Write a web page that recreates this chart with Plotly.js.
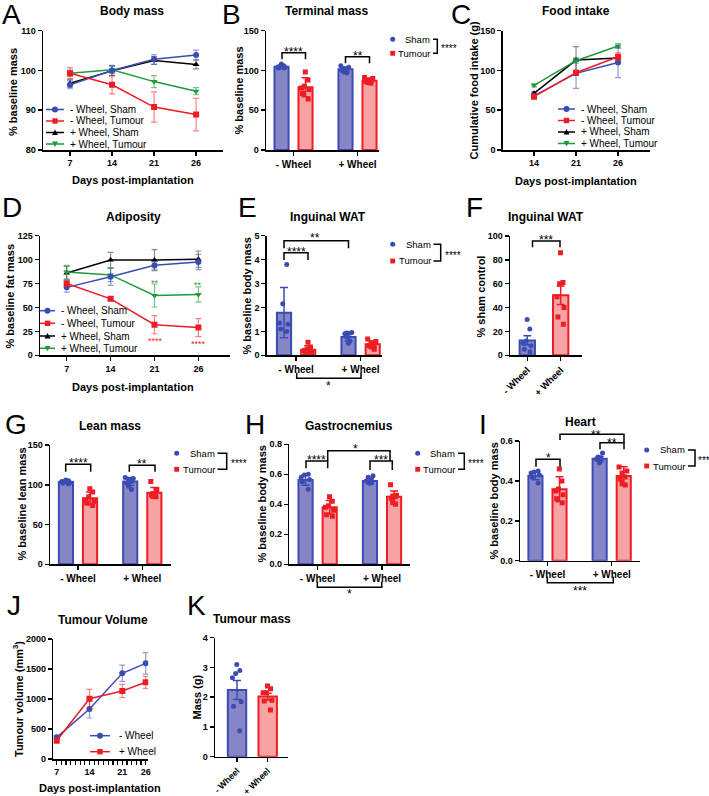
<!DOCTYPE html>
<html><head><meta charset="utf-8">
<script src="https://cdn.plot.ly/plotly-3.0.1.min.js"></script>
<style>html,body{margin:0;padding:0;background:#fff}</style>
</head><body><div id="chart" style="width:709px;height:796px"></div>
<script>
// ================= DATA =================
const lineDays = ['7', '14', '21', '26'];
const foodDays = ['14', '21', '26'];
const volDays = [7, 14, 21, 26];
const barGroups = ['- Wheel', '+ Wheel'];
const seriesNames = ['- Wheel, Sham', '- Wheel, Tumour', '+ Wheel, Sham', '+ Wheel, Tumour'];
const volNames = ['- Wheel', '+ Wheel'];

// A  Body mass (% baseline mass)
const bodyShamNoWheel = [96.4, 100.0, 102.8, 103.9];
const bodyShamNoWheelErr = [1.0, 1.3, 1.2, 1.2];
const bodyTumNoWheel = [99.3, 96.4, 90.8, 88.9];
const bodyTumNoWheelErr = [1.4, 2.3, 3.8, 4.1];
const bodyShamWheel = [96.8, 99.9, 102.5, 101.5];
const bodyShamWheelErr = [1.0, 1.2, 1.0, 1.1];
const bodyTumWheel = [99.3, 100.2, 97.2, 94.8];
const bodyTumWheelErr = [0.8, 1.0, 1.5, 0.9];

// B  Terminal mass
const termShamMean = [104.7, 101.4];
const termShamErr = [2.2, 3.0];
const termTumMean = [78.8, 87.1];
const termTumErr = [12.0, 3.2];
const termShamDots = [[104, 105, 103, 108, 106, 103, 104], [106, 104, 102, 101, 100, 98, 97]];
const termTumDots = [[98, 88, 80, 78, 76, 71, 64], [91, 90, 88, 86, 85, 84, 86]];

// C  Food intake (g)
const foodShamNoWheel = [68, 96.4, 110];
const foodShamNoWheelErr = [2, 19, 19];
const foodTumNoWheel = [67, 97.2, 117.3];
const foodTumNoWheelErr = [2, 3, 5];
const foodShamWheel = [71.2, 113.1, 115.6];
const foodShamWheelErr = [2, 17, 4];
const foodTumWheel = [81.3, 112.3, 130.7];
const foodTumWheelErr = [2, 3, 3];

// D  Adiposity (% baseline fat mass)
const fatShamNoWheel = [71, 82, 94, 97.5];
const fatShamNoWheelErr = [5, 9, 4, 8];
const fatTumNoWheel = [75, 59, 32, 29];
const fatTumNoWheelErr = [3, 2, 9.5, 9.4];
const fatShamWheel = [86, 99.5, 99.5, 100.5];
const fatShamWheelErr = [7, 8, 11, 8.5];
const fatTumWheel = [87, 84, 62.5, 63.5];
const fatTumWheelErr = [7, 7, 12, 8];

// E  Inguinal WAT (% baseline body mass)
const watShamMean = [1.78, 0.77];
const watShamErr = [1.05, 0.17];
const watTumMean = [0.23, 0.46];
const watTumErr = [0.17, 0.14];
const watShamDots = [[3.8, 2.15, 1.35, 1.3, 1.1, 1.0], [0.95, 0.93, 0.92, 0.9, 0.75, 0.6, 0.5]];
const watTumDots = [[0.55, 0.35, 0.25, 0.2, 0.15, 0.1, 0.05], [0.68, 0.58, 0.5, 0.45, 0.4, 0.35, 0.25]];

// F  Inguinal WAT (% sham control)
const watCtrlMean = [12.5, 50.3];
const watCtrlErr = [3.8, 7.8];
const watCtrlDots = [[30, 22, 12, 10, 8, 5, 3], [86, 61, 60, 49, 40, 32, 26]];

// G  Lean mass
const leanShamMean = [103.5, 104.0];
const leanShamErr = [2.0, 5.0];
const leanTumMean = [83.0, 90.0];
const leanTumErr = [8.0, 6.5];
const leanShamDots = [[106, 105, 104, 103, 102, 101, 104], [109, 108, 106, 104, 102, 98, 94]];
const leanTumDots = [[95, 91, 85, 81, 79, 77, 74], [104, 94, 89, 88, 87, 86, 85]];

// H  Gastrocnemius
const gastShamMean = [0.562, 0.556];
const gastShamErr = [0.035, 0.02];
const gastTumMean = [0.38, 0.451];
const gastTumErr = [0.045, 0.038];
const gastShamDots = [[0.6, 0.595, 0.58, 0.565, 0.55, 0.5], [0.59, 0.58, 0.565, 0.555, 0.55, 0.545, 0.54]];
const gastTumDots = [[0.45, 0.42, 0.39, 0.38, 0.36, 0.33, 0.32], [0.53, 0.46, 0.455, 0.45, 0.44, 0.41, 0.40]];

// I  Heart
const heartShamMean = [0.426, 0.511];
const heartShamErr = [0.02, 0.012];
const heartTumMean = [0.358, 0.4245];
const heartTumErr = [0.063, 0.047];
const heartShamDots = [[0.45, 0.445, 0.44, 0.43, 0.42, 0.39], [0.54, 0.52, 0.515, 0.51, 0.505, 0.5, 0.49]];
const heartTumDots = [[0.46, 0.4, 0.36, 0.35, 0.33, 0.31, 0.29], [0.47, 0.45, 0.44, 0.42, 0.41, 0.39, 0.38]];

// J  Tumour volume (mm3)
const volNoWheel = [361, 833, 1428, 1594];
const volNoWheelErr = [30, 150, 135, 180];
const volWheel = [305, 1005, 1133, 1278];
const volWheelErr = [30, 155, 110, 100];

// K  Tumour mass (g)
const tmassMean = [2.24, 2.02];
const tmassErr = [0.32, 0.11];
const tmassDots = [[3.1, 2.9, 2.8, 2.65, 1.85, 1.7, 0.87], [2.38, 2.28, 2.15, 2.15, 1.9, 1.87, 1.57]];

// ================= STYLE / LAYOUT =================
const W = 709, H = 796;
const FONT = 'Liberation Sans, Arial, Helvetica, sans-serif';
const BLUE = '#3a4cb4', RED = '#ee1c24', GREEN = '#1e9a3a', BLACK = '#000000';
const BLUE_E = 'rgba(58,76,180,0.55)', RED_E = 'rgba(238,28,36,0.55)', GREEN_E = 'rgba(30,154,58,0.6)', BLACK_E = 'rgba(0,0,0,0.45)';
const SHAM_FILL = '#8686c6', TUM_FILL = '#f5a3a3';
const px = x => x / W;
const py = y => 1 - y / H;

const traces = [], shapes = [], annotations = [];
const layout = {
  width: W, height: H, margin: {l: 0, r: 0, t: 0, b: 0},
  paper_bgcolor: '#fff', plot_bgcolor: 'rgba(0,0,0,0)',
  font: {family: FONT, color: '#000', size: 10},
  showlegend: false, hovermode: false,
  shapes: shapes, annotations: annotations
};

// plot boxes in pixels [x0, x1, yTop, yBottom]
const geom = {
  1: {box: [43, 223, 30.7, 150], xr: [-0.643, 3.64], yr: [80, 110], dt: 10, cats: lineDays},
  2: {box: [266, 379, 30.7, 150], xr: [-0.43, 1.336], yr: [0, 150], dt: 50, cats: barGroups},
  3: {box: [502.7, 650, 30.7, 150], xr: [-0.745, 2.76], yr: [0, 150], dt: 50, cats: foodDays},
  4: {box: [40, 230, 235.7, 355.3], xr: [-0.608, 3.72], yr: [0, 125], dt: 25, cats: lineDays},
  5: {box: [266.7, 381.7, 235.7, 355.3], xr: [-0.456, 1.327], yr: [0, 5], dt: 1, cats: barGroups},
  6: {box: [510, 581.7, 236, 355.3], xr: [-0.518, 1.63], yr: [0, 100], dt: 20, cats: barGroups, rot: 9.5},
  7: {box: [50, 170.7, 445, 564.3], xr: [-0.435, 1.442], yr: [0, 150], dt: 50, cats: barGroups},
  8: {box: [289.3, 410, 444.3, 564.3], xr: [-0.44, 1.435], yr: [0, 0.8], dt: 0.2, fmt: '.1f', cats: barGroups},
  9: {box: [520, 640, 441, 560.7], xr: [-0.428, 1.441], yr: [0, 0.6], dt: 0.2, fmt: '.1f', cats: barGroups},
  10: {box: [53.3, 148.3, 639, 759], xr: [6.274, 26.555], yr: [0, 2000], dt: 500, lin: true},
  11: {box: [215, 288.3, 637.7, 756.7], xr: [-0.717, 1.671], yr: [0, 4], dt: 1, cats: barGroups, rot: 8.8}
};

const axLine = {showline: true, linecolor: '#000', linewidth: 1.5, ticks: 'outside', ticklen: 4, tickwidth: 1.5,
  tickcolor: '#000', showgrid: false, zeroline: false, fixedrange: true};

Object.keys(geom).forEach(k => {
  const g = geom[k], s = (k === '1') ? '' : k;
  const xa = Object.assign({}, axLine, {
    domain: [px(g.box[0]), px(g.box[1])], range: g.xr, anchor: 'y' + s,
    tickfont: {family: FONT, size: g.rot ? g.rot : (g.cats === barGroups ? 10 : 9), weight: 'bold', color: '#000'}
  });
  if (g.lin) {
    xa.type = 'linear'; xa.tickmode = 'array'; xa.tickvals = volDays; xa.ticktext = volDays.map(String);
    xa.minor = {ticks: 'outside', dtick: 1, tick0: 7, ticklen: 4, tickwidth: 1.2, tickcolor: '#000'};
  } else {
    xa.type = 'category'; xa.categoryorder = 'array'; xa.categoryarray = g.cats;
  }
  if (g.rot) xa.tickangle = -45;
  layout['xaxis' + s] = xa;
  const ya = Object.assign({}, axLine, {
    domain: [py(g.box[3]), py(g.box[2])], range: g.yr, anchor: 'x' + s, dtick: g.dt, tick0: 0,
    tickfont: {family: FONT, size: 9, weight: 'bold', color: '#000'}
  });
  if (g.fmt) ya.tickformat = g.fmt;
  layout['yaxis' + s] = ya;
});
const axId = n => (n === 1 ? {x: 'x', y: 'y'} : {x: 'x' + n, y: 'y' + n});

// ---------- helpers ----------
function text(x, y, t, o) {
  o = o || {};
  annotations.push(Object.assign({xref: 'paper', yref: 'paper', x: px(x), y: py(y), text: t, showarrow: false,
    xanchor: 'center', yanchor: 'middle', font: {family: FONT, size: o.size || 10, color: o.color || '#000'}},
    o.extra || {}));
}
function bold(x, y, t, size, extra) { text(x, y, '<b>' + t + '</b>', {size: size, extra: extra}); }
function stars(x, y, t, size, color, anchor) {
  size = size || 12;
  text(x, y + 0.24 * size, t, {size: size, color: color || '#000', extra: {xanchor: anchor || 'center'}});
}
function path(d, color, w) {
  shapes.push({type: 'path', xref: 'paper', yref: 'paper', path: d, line: {color: color || '#000', width: w || 1.5},
    fillcolor: 'rgba(0,0,0,0)'});
}
function bracket(x0, x1, yTop, yL0, yL1, t, sx, sy) {
  path(`M${px(x0)},${py(yL0)} L${px(x0)},${py(yTop)} L${px(x1)},${py(yTop)} L${px(x1)},${py(yL1)}`);
  stars(sx, sy, t, 12);
}
function marker(cx, cy, sym, color, r) {
  const base = {xref: 'paper', yref: 'paper', fillcolor: color, line: {width: 0}};
  if (sym === 'circle') shapes.push(Object.assign({type: 'circle', x0: px(cx - r), x1: px(cx + r), y0: py(cy + r), y1: py(cy - r)}, base));
  else if (sym === 'square') shapes.push(Object.assign({type: 'rect', x0: px(cx - r * 0.9), x1: px(cx + r * 0.9), y0: py(cy + r * 0.9), y1: py(cy - r * 0.9)}, base));
  else if (sym === 'triangle-up') shapes.push(Object.assign({type: 'path',
    path: `M${px(cx - r)},${py(cy + r * 0.8)} L${px(cx + r)},${py(cy + r * 0.8)} L${px(cx)},${py(cy - r)} Z`}, base));
  else shapes.push(Object.assign({type: 'path',
    path: `M${px(cx - r)},${py(cy - r * 0.8)} L${px(cx + r)},${py(cy - r * 0.8)} L${px(cx)},${py(cy + r)} Z`}, base));
}
function lineLegend(x0, x1, textX, rows, items) {
  items.forEach((it, i) => {
    shapes.push({type: 'line', xref: 'paper', yref: 'paper', x0: px(x0), x1: px(x1), y0: py(rows[i]), y1: py(rows[i]),
      line: {color: it.color, width: 1.5}});
    marker((x0 + x1) / 2, rows[i], it.symbol, it.color, 3);
    text(textX, rows[i], it.name, {size: 10, extra: {xanchor: 'left'}});
  });
}
function barLegend(dotX, rows, textRight, brX, st, stX) {
  marker(dotX, rows[0], 'circle', BLUE, 2.5);
  marker(dotX, rows[1], 'square', RED, 2.7);
  text(textRight, rows[0], 'Sham', {size: 9.5, extra: {xanchor: 'right'}});
  text(textRight, rows[1], 'Tumour', {size: 9.5, extra: {xanchor: 'right'}});
  path(`M${px(textRight + 1)},${py(rows[0])} L${px(brX)},${py(rows[0])} L${px(brX)},${py(rows[1])} L${px(textRight + 1)},${py(rows[1])}`);
  stars(stX || brX + 2, (rows[0] + rows[1]) / 2, st, 10, '#000', 'left');
}
function dotsX(groups, dots) { const xs = []; dots.forEach((a, i) => a.forEach(() => xs.push(groups[i]))); return xs; }

function lineSeries(n, xs, y, err, color, ecolor, symbol) {
  const a = axId(n);
  traces.push({type: 'scatter', mode: 'lines+markers', x: xs, y: y, xaxis: a.x, yaxis: a.y,
    line: {color: color, width: 1.5}, marker: {color: color, symbol: symbol, size: 6},
    error_y: {type: 'data', array: err, color: ecolor, thickness: 1.2, width: 3}, hoverinfo: 'skip'});
}
function barPanel(n, sM, sE, tM, tE, sD, tD) {
  const a = axId(n), BW = 0.22, OFF = 0.1875, DW = 0.2;
  traces.push({type: 'bar', x: barGroups, y: sM, xaxis: a.x, yaxis: a.y, width: BW, offset: -OFF - BW / 2,
    marker: {color: SHAM_FILL, line: {color: BLUE, width: 2}},
    error_y: {type: 'data', array: sE, color: BLUE, thickness: 1.5, width: 4}, hoverinfo: 'skip'});
  traces.push({type: 'bar', x: barGroups, y: tM, xaxis: a.x, yaxis: a.y, width: BW, offset: OFF - BW / 2,
    marker: {color: TUM_FILL, line: {color: RED, width: 2}},
    error_y: {type: 'data', array: tE, color: RED, thickness: 1.5, width: 4}, hoverinfo: 'skip'});
  [[sD, BLUE, 'circle', -1], [tD, RED, 'square', 1]].forEach(([d, c, sym, sg]) => {
    traces.push({type: 'box', x: dotsX(barGroups, d), y: d.flat(), xaxis: a.x, yaxis: a.y, boxpoints: 'all',
      jitter: 0.8, pointpos: sg * OFF / (DW / 2), width: DW, fillcolor: 'rgba(0,0,0,0)',
      line: {color: 'rgba(0,0,0,0)', width: 0}, whiskerwidth: 0,
      marker: {color: c, size: 5, symbol: sym}, hoverinfo: 'skip'});
  });
}
function pairPanel(n, M, E, D, BW) {
  const a = axId(n);
  [[0, SHAM_FILL, BLUE, 'circle'], [1, TUM_FILL, RED, 'square']].forEach(([i, f, c, sym]) => {
    traces.push({type: 'bar', x: [barGroups[i]], y: [M[i]], xaxis: a.x, yaxis: a.y, width: BW, offset: -BW / 2,
      marker: {color: f, line: {color: c, width: 2}},
      error_y: {type: 'data', array: [E[i]], color: c, thickness: 1.5, width: 4}, hoverinfo: 'skip'});
    traces.push({type: 'box', x: dotsX([barGroups[i]], [D[i]]), y: D[i], xaxis: a.x, yaxis: a.y, boxpoints: 'all',
      jitter: 0.9, pointpos: 0, width: BW * 0.75, fillcolor: 'rgba(0,0,0,0)',
      line: {color: 'rgba(0,0,0,0)', width: 0}, whiskerwidth: 0,
      marker: {color: c, size: 5, symbol: sym}, hoverinfo: 'skip'});
  });
}

const legendItems = [
  {name: seriesNames[0], color: BLUE, symbol: 'circle'},
  {name: seriesNames[1], color: RED, symbol: 'square'},
  {name: seriesNames[2], color: BLACK, symbol: 'triangle-up'},
  {name: seriesNames[3], color: GREEN, symbol: 'triangle-down'}
];

// ---------- A ----------
lineSeries(1, lineDays, bodyShamWheel, bodyShamWheelErr, BLACK, BLACK_E, 'triangle-up');
lineSeries(1, lineDays, bodyTumWheel, bodyTumWheelErr, GREEN, GREEN_E, 'triangle-down');
lineSeries(1, lineDays, bodyShamNoWheel, bodyShamNoWheelErr, BLUE, BLUE_E, 'circle');
lineSeries(1, lineDays, bodyTumNoWheel, bodyTumNoWheelErr, RED, RED_E, 'square');
lineLegend(46, 64, 68, [109.5, 121, 132.5, 144], legendItems);
// ---------- B ----------
barPanel(2, termShamMean, termShamErr, termTumMean, termTumErr, termShamDots, termTumDots);
bracket(282, 305.5, 52.7, 59.3, 59.3, '****', 293.7, 49.5);
bracket(345.5, 369.5, 56.7, 63.3, 63.3, '**', 357.5, 53);
barLegend(392.7, [39.3, 53.3], 432, 437.3, '****');
// ---------- C ----------
lineSeries(3, foodDays, foodShamWheel, foodShamWheelErr, BLACK, BLACK_E, 'triangle-up');
lineSeries(3, foodDays, foodTumWheel, foodTumWheelErr, GREEN, GREEN_E, 'triangle-down');
lineSeries(3, foodDays, foodShamNoWheel, foodShamNoWheelErr, BLUE, BLUE_E, 'circle');
lineSeries(3, foodDays, foodTumNoWheel, foodTumNoWheelErr, RED, RED_E, 'square');
lineLegend(558, 575, 578.5, [109, 120.5, 132, 143.5], legendItems);
// ---------- D ----------
lineSeries(4, lineDays, fatShamWheel, fatShamWheelErr, BLACK, BLACK_E, 'triangle-up');
lineSeries(4, lineDays, fatTumWheel, fatTumWheelErr, GREEN, GREEN_E, 'triangle-down');
lineSeries(4, lineDays, fatShamNoWheel, fatShamNoWheelErr, BLUE, BLUE_E, 'circle');
lineSeries(4, lineDays, fatTumNoWheel, fatTumNoWheelErr, RED, RED_E, 'square');
lineLegend(40, 55, 58.5, [310.7, 323.3, 336, 348.3], legendItems);
stars(155, 281, '**', 9, GREEN); stars(198.3, 282.7, '**', 9, GREEN);
stars(155, 339.3, '****', 9, RED); stars(198.3, 341.7, '****', 9, RED);
// ---------- E ----------
barPanel(5, watShamMean, watShamErr, watTumMean, watTumErr, watShamDots, watTumDots);
bracket(284, 308, 252.7, 260, 260, '****', 296, 249.3);
bracket(284, 348.5, 240.7, 248.3, 248.3, '**', 315, 235.5);
bracket(296.7, 361, 378.3, 372.7, 372.7, '*', 328.8, 383.5);
barLegend(392.7, [244.3, 261], 432.5, 440.7, '****');
// ---------- F ----------
pairPanel(6, watCtrlMean, watCtrlErr, watCtrlDots, 0.46);
bracket(532.5, 560, 241, 247.3, 247.3, '***', 546.3, 237);
// ---------- G ----------
barPanel(7, leanShamMean, leanShamErr, leanTumMean, leanTumErr, leanShamDots, leanTumDots);
bracket(65.7, 90.7, 464.3, 471.7, 471.7, '****', 78.2, 460.3);
bracket(129.3, 155, 465.3, 471.7, 471.7, '**', 142.2, 461);
barLegend(176.7, [453.3, 469.3], 216.5, 226.7, '****');
// ---------- H ----------
barPanel(8, gastShamMean, gastShamErr, gastTumMean, gastTumErr, gastShamDots, gastTumDots);
bracket(306, 327.7, 461, 468.3, 468.3, '****', 316.8, 457.3);
bracket(370, 392.3, 461, 470, 470, '***', 381.2, 457.3);
bracket(327.7, 390, 450.7, 461, 461, '*', 355, 446.5);
bracket(317.3, 381.7, 587.3, 581.7, 581.7, '*', 349.5, 591.5);
barLegend(417.7, [453.3, 469.3], 457, 464.3, '****');
// ---------- I ----------
barPanel(9, heartShamMean, heartShamErr, heartTumMean, heartTumErr, heartShamDots, heartTumDots);
bracket(536, 560, 459.3, 466.7, 466.7, '*', 548, 455.3);
bracket(600, 624, 442.7, 449.3, 449.3, '**', 612, 440);
bracket(560, 624, 434.3, 440, 442.7, '**', 596, 432.3);
bracket(547.3, 613.3, 582.7, 576.7, 576.7, '***', 580.3, 588.5);
barLegend(646.7, [450, 466], 687, 695, '***', 695.8);
// ---------- J ----------
lineSeries(10, volDays, volNoWheel, volNoWheelErr, BLUE, BLUE_E, 'circle');
lineSeries(10, volDays, volWheel, volWheelErr, RED, RED_E, 'square');
lineLegend(90, 110, 116.7, [735.7, 751.7], [
  {name: volNames[0], color: BLUE, symbol: 'circle'}, {name: volNames[1], color: RED, symbol: 'square'}]);
// ---------- K ----------
pairPanel(11, tmassMean, tmassErr, tmassDots, 0.6);

// ---------- titles ----------
[['Body mass', 131.7, 11], ['Terminal mass', 326.7, 11], ['Food intake', 575.5, 11],
 ['Adiposity', 133.3, 216.7], ['Inguinal WAT', 328.3, 216.7], ['Inguinal WAT', 545.8, 216.7],
 ['Lean mass', 109.7, 426], ['Gastrocnemius', 349.2, 426], ['Heart', 580.5, 421.8],
 ['Tumour Volume', 103, 620], ['Tumour mass', 252, 619]].forEach(t => bold(t[1], t[2], t[0], 12));
// y titles
[['% baseline mass', 13, 92], ['% baseline mass', 238.5, 90], ['Cumulative food intake (g)', 473.5, 91],
 ['% baseline fat mass', 9.5, 296], ['% baseline body mass', 246.5, 296], ['% sham control', 480.5, 296],
 ['% baseline lean mass', 21.5, 504], ['% baseline body mass', 261.5, 504], ['% baseline body mass', 493.5, 501],
 ['Tumour volume (mm<sup>3</sup>)', 18, 699], ['Mass (g)', 196.5, 697]].forEach(t => bold(t[1], t[2], t[0], 11, {textangle: -90}));
// x titles
[[132.5, 180], [575.7, 181], [133, 386.7], [100, 788.3]].forEach(p => bold(p[0], p[1], 'Days post-implantation', 11));
// panel letters
[['A', 11, 15], ['B', 231, 15], ['C', 461, 15], ['D', 12, 207], ['E', 247, 207], ['F', 474, 207],
 ['G', 16, 425], ['H', 255, 425], ['I', 482.5, 424], ['J', 14, 605], ['K', 196, 605]].forEach(l =>
  text(l[1], l[2], l[0], {size: 28}));

Plotly.newPlot('chart', traces, layout, {staticPlot: true, displayModeBar: false});
</script></body></html>
